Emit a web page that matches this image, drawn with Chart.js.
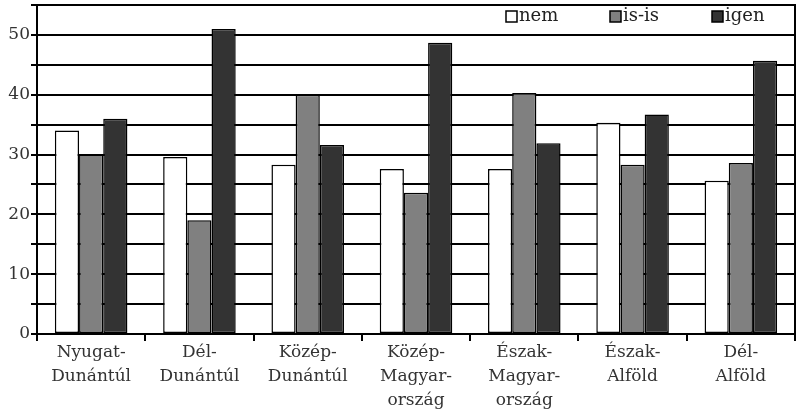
<!DOCTYPE html>
<html>
<head>
<meta charset="utf-8">
<script src="https://cdn.jsdelivr.net/npm/chart.js@4/dist/chart.umd.min.js"></script>
<style>
  html, body { margin: 0; padding: 0; background: #fff; }
  #wrap { width: 797px; height: 411px; position: relative; }
</style>
</head>
<body>
<div id="wrap"><canvas id="chart"></canvas></div>
<script>
const regions = [
    ['Nyugat-', 'Dunántúl'],
    ['Dél-', 'Dunántúl'],
    ['Közép-', 'Dunántúl'],
    ['Közép-', 'Magyar-', 'ország'],
    ['Észak-', 'Magyar-', 'ország'],
    ['Észak-', 'Alföld'],
    ['Dél-', 'Alföld']
];
const seriesNames = ['nem', 'is-is', 'igen'];
const nemValues = [34, 29.6, 28.3, 27.6, 27.6, 35.3, 25.6];
const isisValues = [30, 19, 40, 23.6, 40.3, 28.3, 28.6];
const igenValues = [36, 51, 31.6, 48.7, 31.9, 36.7, 45.7];
const seriesColors = ['#ffffff', '#808080', '#333333'];

const FONT = '"DejaVu Serif", serif';

// frame round the plot area
const framePlugin = {
    id: 'frame',
    afterDraw(chart) {
        const a = chart.chartArea, ctx = chart.ctx;
        ctx.save();
        ctx.strokeStyle = '#000';
        ctx.lineWidth = 2;
        ctx.strokeRect(a.left, a.top, a.right - a.left, a.bottom - a.top);
        ctx.restore();
    }
};

// legend sitting inside the plot, top right
const insideLegend = {
    id: 'insideLegend',
    afterDraw(chart) {
        const ctx = chart.ctx;
        ctx.save();
        ctx.font = '18px ' + FONT;
        ctx.textBaseline = 'middle';
        const xs = [506, 610, 712];
        chart.data.datasets.forEach((ds, i) => {
            ctx.fillStyle = ds.backgroundColor;
            ctx.fillRect(xs[i], 11, 11, 11);
            ctx.strokeStyle = '#000';
            ctx.lineWidth = 1.5;
            ctx.strokeRect(xs[i], 11, 11, 11);
            ctx.fillStyle = '#222';
            ctx.fillText(ds.label, xs[i] + 13, 16);
        });
        ctx.restore();
    }
};

new Chart(document.getElementById('chart'), {
    type: 'bar',
    data: {
        labels: regions,
        datasets: [
            { label: seriesNames[0], data: nemValues, backgroundColor: seriesColors[0] },
            { label: seriesNames[1], data: isisValues, backgroundColor: seriesColors[1] },
            { label: seriesNames[2], data: igenValues, backgroundColor: seriesColors[2] }
        ].map(d => Object.assign(d, { borderColor: '#000', borderWidth: 1.5, borderSkipped: false,
            categoryPercentage: 0.67, barPercentage: 1 }))
    },
    options: {
        responsive: true,
        maintainAspectRatio: false,
        animation: false,
        layout: { padding: { top: 5, right: 2, left: 0, bottom: 0 } },
        plugins: { legend: { display: false }, tooltip: { enabled: false } },
        scales: {
            x: {
                afterFit: s => { s.height = 77; s.paddingLeft = 0; s.paddingRight = 0; },
                grid: { offset: true, drawOnChartArea: false, color: '#000', lineWidth: 2, tickLength: 7 },
                border: { color: '#000', width: 2 },
                ticks: { color: '#333', font: { family: FONT, size: 17, lineHeight: 1.41 }, maxRotation: 0, padding: 0 }
            },
            y: {
                min: 0, max: 55,
                afterFit: s => { s.width = 37; s.paddingTop = 0; s.paddingBottom = 0; },
                grid: { color: '#000', lineWidth: 2, tickLength: 6 },
                border: { color: '#000', width: 2 },
                ticks: {
                    stepSize: 5, color: '#333', padding: 1,
                    font: { family: FONT, size: 17 },
                    callback: v => (v % 10 === 0 ? v : '')
                }
            }
        }
    },
    plugins: [framePlugin, insideLegend]
});
</script>
</body>
</html>
